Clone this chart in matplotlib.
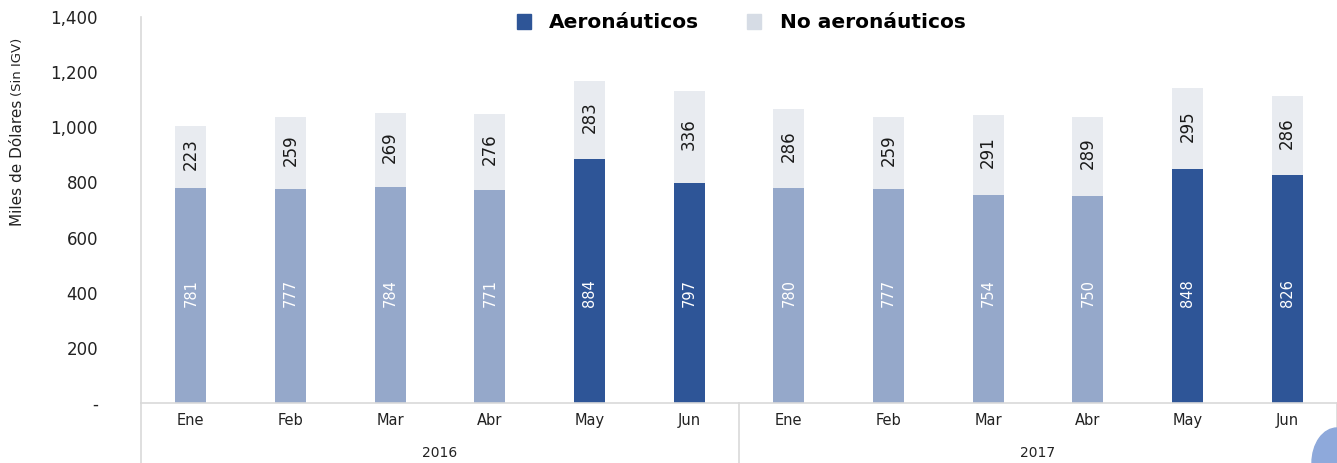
import matplotlib
matplotlib.use('Agg')
import matplotlib.pyplot as plt
from matplotlib.patches import Ellipse

months = ["Ene", "Feb", "Mar", "Abr", "May", "Jun"]
years = ["2016", "2017"]
aero = [781, 777, 784, 771, 884, 797, 780, 777, 754, 750, 848, 826]
no_aero = [223, 259, 269, 276, 283, 336, 286, 259, 291, 289, 295, 286]
# May and June bars are highlighted in the darker blue
highlight = [False, False, False, False, True, True] * 2

c_dark = "#2E5597"
c_light = "#95A8CA"
c_top = "#E8EBF0"
c_legend_top = "#D6DCE5"
grid_c = "#D9D9D9"

plt.rcParams['font.family'] = ['DejaVu Sans']

fig = plt.figure(figsize=(13.37, 4.63), dpi=100)
ax = fig.add_axes([141 / 1337, 1 - 403 / 463, 1196 / 1337, 386 / 463])

x = list(range(len(aero)))
colors = [c_dark if h else c_light for h in highlight]
ax.bar(x, aero, width=0.31, color=colors, zorder=2)
ax.bar(x, no_aero, bottom=aero, width=0.31, color=c_top, zorder=2)

for xi, a, n in zip(x, aero, no_aero):
    ax.text(xi, 400, str(a), rotation=90, ha="center", va="center",
            color="white", fontsize=10.5, zorder=3)
    ax.text(xi, a + n / 2 + 10, str(n), rotation=90, ha="center", va="center",
            color="#1a1a1a", fontsize=12, zorder=3)

ax.set_xlim(-0.5, len(aero) - 0.5)
ax.set_ylim(0, 1400)
ax.set_yticks(range(0, 1401, 200))
ax.set_yticklabels(["-"] + [f"{v:,}" for v in range(200, 1401, 200)],
                   fontsize=12, color="#222222")
ax.tick_params(axis="y", length=0, pad=31)
ax.set_xticks([])

for s in ["top", "right"]:
    ax.spines[s].set_visible(False)
ax.spines["left"].set_color(grid_c)
ax.spines["bottom"].set_color(grid_c)
ax.spines["left"].set_linewidth(1.2)
ax.spines["bottom"].set_linewidth(1.2)

trans = ax.get_xaxis_transform()
for xi, m in zip(x, months * 2):
    ax.text(xi, -0.045, m, transform=trans, ha="center", va="center",
            fontsize=10.5, color="#222222")
for i, yr in enumerate(years):
    ax.text(i * 6 + 2.5, -0.13, yr, transform=trans, ha="center", va="center",
            fontsize=10, color="#222222")
# group separators below the axis
for xs in [-0.5, 5.5, 11.5]:
    ax.plot([xs, xs], [0, -0.16], transform=trans, color=grid_c,
            lw=1.2, clip_on=False)

fig.text(18 / 1337, 1 - 100 / 463, "Miles de Dólares", rotation=90,
         ha="center", va="top", fontsize=11, color="#222222")
fig.text(17 / 1337, 1 - 96 / 463, "(Sin IGV)", rotation=90, ha="center",
         va="bottom", fontsize=9.5, color="#222222")

h1 = plt.Rectangle((0, 0), 1, 1, color=c_dark)
h2 = plt.Rectangle((0, 0), 1, 1, color=c_legend_top)
fig.legend([h1, h2], ["Aeronáuticos", "No aeronáuticos"], ncol=2,
           loc="center", bbox_to_anchor=(741 / 1337, 1 - 23 / 463),
           frameon=False, handlelength=0.7, handleheight=0.7,
           columnspacing=2.4, handletextpad=0.9,
           prop={"weight": "bold", "size": 14.5})

# corner decoration
fig.patches.append(Ellipse((1.0, 0.0), 50 / 1337, 70 / 463,
                           transform=fig.transFigure, color="#8EA9DB",
                           figure=fig))

fig.savefig("out.png", dpi=100)
